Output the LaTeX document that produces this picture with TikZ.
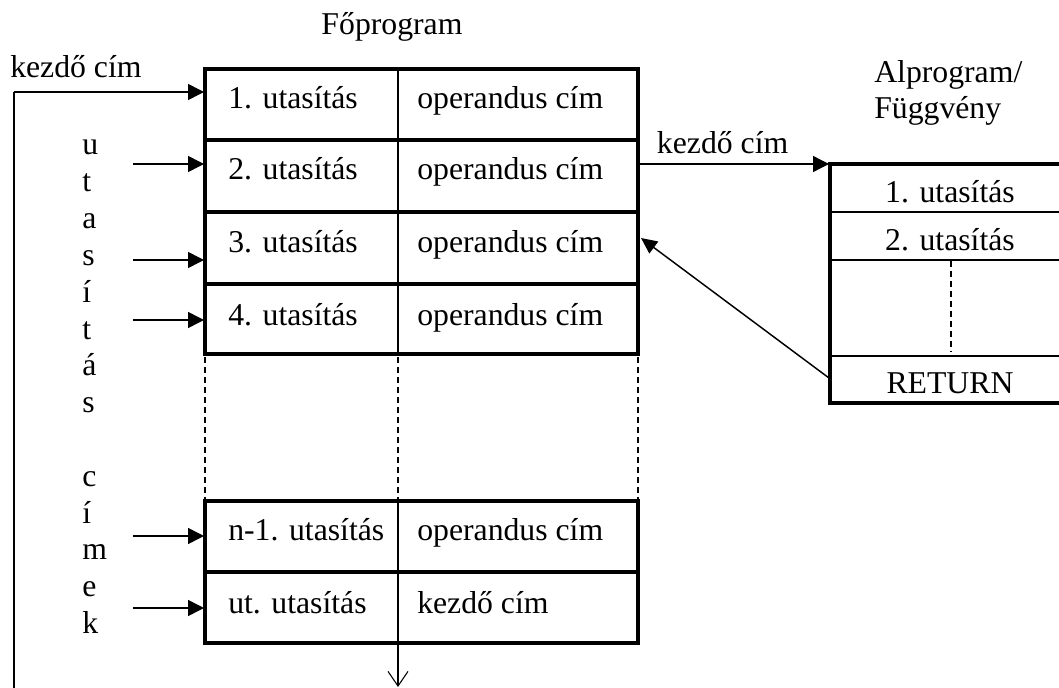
\documentclass[tikz,border=0pt]{standalone}
\usepackage{fontspec}
\setmainfont{Liberation Serif}
\usetikzlibrary{arrows.meta}
\begin{document}
\begin{tikzpicture}[x=0.75pt,y=-0.75pt,
  txt/.style={inner sep=0pt, anchor=base west, font=\fontsize{23.8}{28}\selectfont},
  ctxt/.style={txt, anchor=base},
  thickline/.style={line width=2.6pt},
  thinline/.style={line width=0.8pt},
  dashline/.style={line width=1pt, dash pattern=on 4.5pt off 3pt},
  arr/.style={line width=1.2pt, -{Triangle[length=12pt,width=12pt]}},
  openarr/.style={line width=0.8pt, -{Straight Barb[length=11pt,width=15pt]}},
]
\useasboundingbox (0,0) rectangle (1059,688);

% ---------- main program table ----------
\draw[thickline] (205,69) rectangle (638,354);
\foreach \y in {140,212,284} \draw[thickline] (205,\y) -- (638,\y);
\draw[thinline] (398,69) -- (398,354);
\foreach \x in {205,398,638} \draw[dashline] (\x,357) -- (\x,499);
\draw[thickline] (205,501) rectangle (638,643);
\draw[thickline] (205,572) -- (638,572);
\draw[thinline] (398,501) -- (398,643);

\node[ctxt] (title) at (392,35) {Főprogram};

\node[txt] (u1) at (228,109) {1. utasítás};
\node[txt] (o1) at (417,109) {operandus cím};
\node[txt] (u2) at (228,180) {2. utasítás};
\node[txt] (o2) at (417,180) {operandus cím};
\node[txt] (u3) at (228,252) {3. utasítás};
\node[txt] (o3) at (417,252) {operandus cím};
\node[txt] (u4) at (228,325) {4. utasítás};
\node[txt] (o4) at (417,325) {operandus cím};
\node[txt] (un) at (228,540) {n-1. utasítás};
\node[txt] (on) at (417,540) {operandus cím};
\node[txt] (ul) at (228,613) {ut. utasítás};
\node[txt] (ol) at (417,613) {kezdő cím};

% end points on the table
\coordinate (w1) at (204,92);
\coordinate (w2) at (204,164);
\coordinate (w3) at (204,260);
\coordinate (w4) at (204,320);
\coordinate (wn) at (204,536);
\coordinate (wl) at (204,608);
\coordinate (e2) at (639,164);
\coordinate (e3) at (641,238);
\coordinate (bot) at (398,643);
\coordinate (down) at (398,687);

% ---------- left side ----------
\node[txt] (kc) at (10,78) {kezdő cím};
\coordinate (lb) at (14,688);
\coordinate (lt) at (14,92);
\draw[line width=1.3pt] (lb) -- (lt);
\draw[arr] (lt) -- (w1);

\foreach \l [count=\i] in {u,t,a,s,í,t,á,s,{},c,í,m,e,k}
  \node[txt] (v\i) at (82,155+36.8*\i-36.8) {\l};

\coordinate (s2) at (133,164);
\coordinate (s3) at (133,260);
\coordinate (s4) at (133,320);
\coordinate (sn) at (133,536);
\coordinate (sl) at (133,608);
\draw[arr] (s2) -- (w2);
\draw[arr] (s3) -- (w3);
\draw[arr] (s4) -- (w4);
\draw[arr] (sn) -- (wn);
\draw[arr] (sl) -- (wl);

\draw[openarr] (bot) -- (down);

% ---------- subprogram ----------
\node[txt] (al1) at (874,83) {Alprogram/};
\node[txt] (al2) at (874,119) {Függvény};

\draw[thickline] (1060,164) -- (830,164) -- (830,403) -- (1060,403);
\foreach \y in {212,260,356} \draw[thinline] (830,\y) -- (1060,\y);
\draw[dashline] (951,261) -- (951,352);

\node[ctxt] (a1) at (950,202) {1. utasítás};
\node[ctxt] (a2) at (950,250) {2. utasítás};
\node[ctxt] (ret) at (950,393) {RETURN};

\coordinate (sw) at (829,164);
\coordinate (rs) at (829,378);
\draw[line width=1pt, -{Triangle[length=12pt,width=12pt]}] (e2) -- node[txt, anchor=base, pos=0.44, yshift=8pt] (kc2) {kezdő cím} (sw);
\draw[line width=1.1pt, -{Triangle[length=12pt,width=11pt]}] (rs) -- (e3);
\end{tikzpicture}
\end{document}
